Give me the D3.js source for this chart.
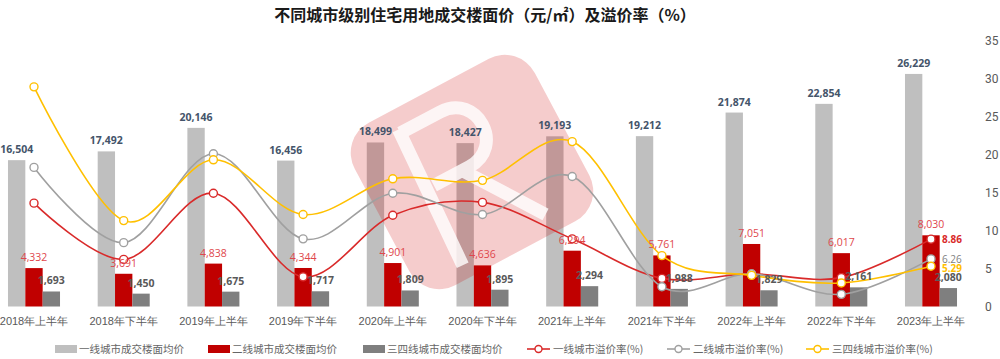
<!DOCTYPE html>
<html><head><meta charset="utf-8">
<script src="https://cdn.jsdelivr.net/npm/d3@7"></script>
<style>
body{margin:0;background:#fff;}
svg{display:block;font-family:"Noto Sans CJK SC","Noto Sans",sans-serif;}
</style></head>
<body><svg id="c" width="1000" height="359"></svg>
<script>
const categories = ["2018年上半年","2018年下半年","2019年上半年","2019年下半年","2020年上半年","2020年下半年","2021年上半年","2021年下半年","2022年上半年","2022年下半年","2023年上半年"];
const tier1Price = [16504,17492,20146,16456,18499,18427,19193,19212,21874,22854,26229];
const tier2Price = [4332,3691,4838,4344,4901,4636,6294,5761,7051,6017,8030];
const tier34Price = [1693,1450,1675,1717,1809,1895,2294,1988,1829,2161,2080];
const tier1Rate = [13.6,6.2,14.9,3.9,12.0,13.7,8.9,3.7,4.3,3.8,8.86];
const tier2Rate = [18.3,8.4,20.1,8.9,14.9,12.1,17.1,2.6,4.3,1.6,6.26];
const tier34Rate = [28.9,11.3,19.3,12.1,16.8,16.6,21.7,6.7,4.1,3.1,5.29];
const rightTicks = [0,5,10,15,20,25,30,35];
const barNames = ["一线城市成交楼面均价","二线城市成交楼面均价","三四线城市成交楼面均价"];
const lineNames = ["一线城市溢价率(%)","二线城市溢价率(%)","三四线城市溢价率(%)"];
const title = "不同城市级别住宅用地成交楼面价（元/㎡）及溢价率（%）";

const svg = d3.select("#c");
const barColors = ["#bfbfbf","#c00000","#7f7f7f"];
const lineColors = ["#d92a2a","#a0a0a0","#ffc000"];
const barLabelColors = ["#44546a","#e0474c","#595959"];

const x = d3.scaleBand().domain(categories).range([-10.85, 975.85]).paddingInner(0.42).paddingOuter(0.21);
const xs = d3.scaleBand().domain([0,1,2]).range([0, x.bandwidth()]);
const yL = d3.scaleLinear().domain([0,30000]).range([306.5,40.5]);
const yR = d3.scaleLinear().domain([0,35]).range([306.5,40.5]);

// title
svg.append("text").attr("x",485).attr("y",21).attr("text-anchor","middle")
  .attr("font-size",16).attr("font-weight","bold").attr("fill","#1a1a1a").text(title);

// right axis
const axR = d3.axisRight(yR).tickValues(rightTicks).tickSize(0).tickPadding(0);
const gR = svg.append("g").attr("transform","translate(985,0)").call(axR);
gR.select(".domain").remove();
gR.selectAll("text").attr("font-size",12).attr("fill","#595959").attr("font-family","Roboto, 'Noto Sans', sans-serif").attr("text-anchor","start");

function watermark(){
  const wm = svg.append("g").attr("transform","translate(472,172) rotate(-28)").attr("opacity",0.2);
  wm.append("rect").attr("x",-102).attr("y",-92).attr("width",204).attr("height",184).attr("rx",34).attr("fill","#cc0000");
  const wmw = svg.append("g").attr("transform","translate(472,172) rotate(-28)");
  wmw.append("path").attr("d","M-45,-72 L-52,78 M-45,-68 L0,-68 C42,-68 42,-6 0,-6 L-40,-6 M-8,-6 L45,72")
    .attr("fill","none").attr("stroke","#fff").attr("stroke-width",13).attr("stroke-opacity",0.8);
}

// bottom axis labels
const axB = d3.axisBottom(x).tickSize(0).tickPadding(11);
const gB = svg.append("g").attr("transform","translate(0,306.5)").call(axB);
gB.select(".domain").remove();
gB.selectAll("text").attr("font-size",11).attr("fill","#595959");

// bars
const barSeries = [tier1Price, tier2Price, tier34Price];
barSeries.forEach((vals, si) => {
  svg.append("g").selectAll("rect").data(vals).join("rect")
    .attr("x",(d,i)=>x(categories[i])+xs(si))
    .attr("width",xs.bandwidth())
    .attr("y",d=>yL(d))
    .attr("height",d=>yL(0)-yL(d))
    .attr("fill",barColors[si]);
});

watermark();

// lines
const lineSeries = [tier1Rate, tier2Rate, tier34Rate];
const line = d3.line().x((d,i)=>x(categories[i])+x.bandwidth()/2).y(d=>yR(d)).curve(d3.curveCatmullRom.alpha(0));
lineSeries.forEach((vals, si) => {
  svg.append("path").datum(vals).attr("d",line).attr("fill","none")
    .attr("stroke",lineColors[si]).attr("stroke-width",1.6);
});
lineSeries.forEach((vals, si) => {
  svg.append("g").selectAll("circle").data(vals).join("circle")
    .attr("cx",(d,i)=>x(categories[i])+x.bandwidth()/2)
    .attr("cy",d=>yR(d)).attr("r",4)
    .attr("fill","#fff").attr("stroke",lineColors[si]).attr("stroke-width",1.4);
});

// bar labels
barSeries.forEach((vals, si) => {
  svg.append("g").selectAll("text").data(vals).join("text")
    .attr("x",(d,i)=>x(categories[i])+xs(si)+xs.bandwidth()/2)
    .attr("y",d=>yL(d)-7)
    .attr("text-anchor","middle")
    .attr("font-size",10.5)
    .attr("font-family","'Open Sans', 'Noto Sans', sans-serif")
    .attr("font-weight", si===1 ? "normal" : "bold")
    .attr("fill",barLabelColors[si])
    .text(d=>d3.format(",")(d));
});

// last point line labels
const lastCat = categories[categories.length-1];
const lblColors = ["#d92a2a","#7f7f7f","#ffc000"];
const lblDy = [4, 4.5, 5.5];
lineSeries.forEach((vals, si) => {
  const v = vals[vals.length-1];
  svg.append("text").attr("x",x(lastCat)+x.bandwidth()/2+11).attr("y",yR(v)+lblDy[si])
    .attr("font-size",10).attr("font-weight", si===1?"normal":"bold")
    .attr("font-family","'Open Sans', 'Noto Sans', sans-serif")
    .attr("fill",lblColors[si]).text(d3.format(".2f")(v));
});

// legend
const leg = svg.append("g").attr("font-size",10.5).attr("fill","#666");
const barLegX = [55,208,363];
barNames.forEach((n,i)=>{
  leg.append("rect").attr("x",barLegX[i]).attr("y",345).attr("width",22).attr("height",8).attr("fill",barColors[i]);
  leg.append("text").attr("x",barLegX[i]+24).attr("y",353).text(n);
});
const lineLegX = [527,667,806];
lineNames.forEach((n,i)=>{
  leg.append("line").attr("x1",lineLegX[i]).attr("x2",lineLegX[i]+23).attr("y1",349).attr("y2",349).attr("stroke",lineColors[i]).attr("stroke-width",1.6);
  leg.append("circle").attr("cx",lineLegX[i]+11.5).attr("cy",349).attr("r",3.5).attr("fill","#fff").attr("stroke",lineColors[i]).attr("stroke-width",1.4);
  leg.append("text").attr("x",lineLegX[i]+26).attr("y",353).text(n);
});
</script></body></html>
